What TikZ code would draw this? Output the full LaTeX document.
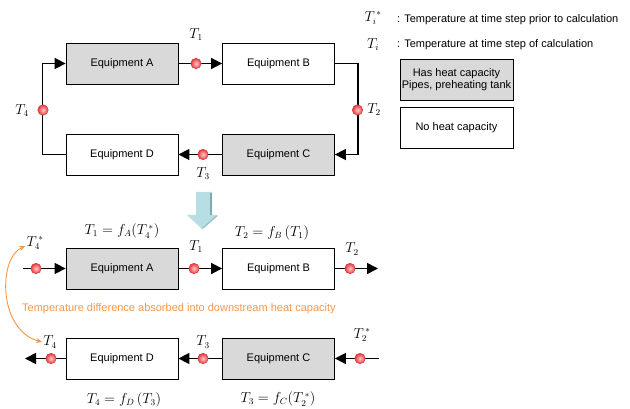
\documentclass[tikz,border=0pt]{standalone}
\usepackage{fontspec}
\setmainfont{Liberation Sans}
\usetikzlibrary{arrows.meta,shadings}
\definecolor{grayfill}{RGB}{217,217,217}
\definecolor{orangec}{RGB}{247,150,70}
\definecolor{arrowblue}{RGB}{183,222,226}
\definecolor{arrowdark}{RGB}{130,170,176}
\definecolor{dotout}{RGB}{235,55,60}
\definecolor{dotin}{RGB}{255,200,200}
\tikzset{
 box/.style={draw, line width=0.8pt, minimum width=112pt, minimum height=41pt, inner sep=0, font=\fontsize{11}{12.5}\selectfont},
 heat/.style={box, fill=grayfill},
 flow/.style={line width=1.6pt, -{Triangle[length=11pt,width=11pt]}},
 tdot/.style={circle, minimum size=10.5pt, inner sep=0, inner color=dotin, outer color=dotout, draw=dotout!85!black, line width=0.4pt},
 lab/.style={font=\fontsize{13.5}{15}\selectfont, inner sep=0},
 txt/.style={font=\fontsize{11}{12.5}\selectfont, inner sep=0},
}
\begin{document}
\begin{tikzpicture}[x=1pt,y=-1pt]
\useasboundingbox (0,0) rectangle (630,409);
% ---------- top loop ----------
\node[heat] (A) at (122,63.5) {Equipment A};
\node[box]  (B) at (278.5,63.5) {Equipment B};
\node[box]  (D) at (122,154.5) {Equipment D};
\node[heat] (C) at (278.5,154.5) {Equipment C};
\draw[flow] (A.east) -- (B.west);
\draw[flow] (B.east) -- ++(23,0) |- (C.east);
\draw[flow] (C.west) -- (D.east);
\draw[flow] (D.west) -- ++(-23,0) |- (A.west);
\node[tdot] (d1) at (196,63.5) {};
\node[tdot] (d2) at (357.5,110) {};
\node[tdot] (d3) at (203,154.5) {};
\node[tdot] (d4) at (43,110) {};
\node[lab] (l1) at (196,35) {$T_1$};
\node[lab] (l2) at (374,110) {$T_2$};
\node[lab] (l3) at (203,174) {$T_3$};
\node[lab] (l4) at (22,111) {$T_4$};
% ---------- legend ----------
\node[lab] (lgs) at (373,18) {$T_i^{\,*}$};
\node[txt, anchor=west] (lgst) at (397,20) {: Temperature at time step prior to calculation};
\node[lab] (lg) at (373,45) {$T_i$};
\node[txt, anchor=west] (lgt) at (397,45) {: Temperature at time step of calculation};
\node[heat, minimum width=113pt, align=center] (lgA) at (456.5,79.5) {Has heat capacity\\[-1pt]Pipes, preheating tank};
\node[box, minimum width=113pt] (lgB) at (456.5,127.5) {No heat capacity};
% ---------- down arrow ----------
\fill[arrowblue] (196,192) -- (212,192) -- (212,215) -- (218,215) -- (202,229) -- (187,215) -- (196,215) -- cycle;
\draw[arrowdark, line width=1.5pt] (211.2,193) -- (211.2,215.5);
\draw[arrowdark!70!arrowblue, line width=1pt] (217,215.8) -- (202.5,228.5);
% ---------- bottom ----------
\node[heat] (A2) at (122,268.5) {Equipment A};
\node[box]  (B2) at (278.5,268.5) {Equipment B};
\node[box]  (D2) at (122,358.5) {Equipment D};
\node[heat] (C2) at (278.5,358.5) {Equipment C};
\coordinate (in1) at (23,268.5);
\coordinate (out2) at (378,268.5);
\coordinate (in3) at (379,358.5);
\coordinate (out4) at (25,358.5);
\draw[flow] (in1) -- (A2.west);
\draw[flow] (A2.east) -- (B2.west);
\draw[flow] (B2.east) -- (out2);
\draw[flow] (in3) -- (C2.east);
\draw[flow] (C2.west) -- (D2.east);
\draw[flow] (D2.west) -- (out4);
\node[tdot] (e1) at (36,268.5) {};
\node[tdot] (e2) at (194,268.5) {};
\node[tdot] (e3) at (350,268.5) {};
\node[tdot] (e4) at (360,358.5) {};
\node[tdot] (e5) at (203,358.5) {};
\node[tdot] (e6) at (51,358.5) {};
\node[lab] (m4s) at (35,243) {$T_4^{\,*}$};
\node[lab] (m1) at (196,247) {$T_1$};
\node[lab] (m2) at (352,249) {$T_2$};
\node[lab] (m4) at (50,342) {$T_4$};
\node[lab] (m3) at (203,342) {$T_3$};
\node[lab] (m2s) at (362,335) {$T_2^{\,*}$};
\node[lab] (f1) at (122,231) {$T_1 = f_A\bigl(T_4^{\,*}\bigr)$};
\node[lab] (f2) at (272,233) {$T_2 = f_B\left(T_1\right)$};
\node[lab] (f4) at (124,400) {$T_4 = f_D\left(T_3\right)$};
\node[lab] (f3) at (278,399) {$T_3 = f_C\bigl(T_2^{\,*}\bigr)$};
\node[txt, anchor=west, text=orangec] (note) at (22,309) {Temperature difference absorbed into downstream heat capacity};
\draw[orangec, line width=0.9pt, {Stealth[length=6pt,width=5pt]}-{Stealth[length=6pt,width=5pt]}]
  ([xshift=-1pt,yshift=-3pt]m4s.west) .. controls (-2,258) and (-2,330) .. ([xshift=-1pt]m4.west);
\end{tikzpicture}
\end{document}
